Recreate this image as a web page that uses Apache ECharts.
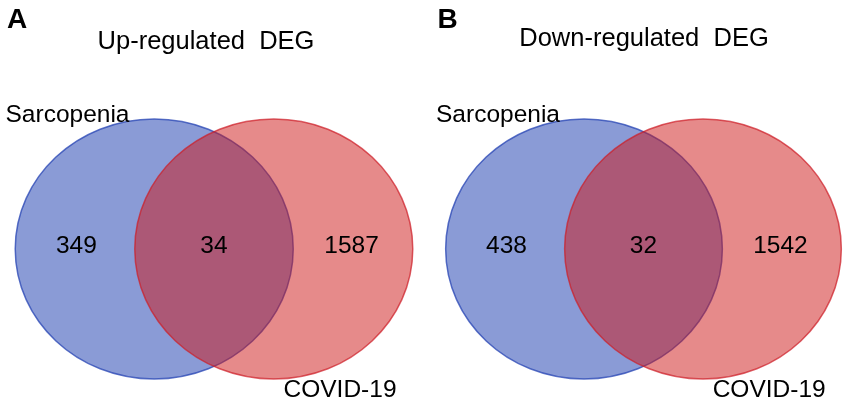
<!DOCTYPE html>
<html lang="en">
<head>
    <meta charset="utf-8">
    <title>Venn DEG</title>
    <style>
        html, body { margin: 0; padding: 0; background: #fff; }
    </style>
</head>
<body>
    <div id="main" style="width:851px;height:407px;"></div>
    <script src="https://cdn.jsdelivr.net/npm/echarts@6/dist/echarts.min.js"></script>
    <script type="text/javascript">
    var myChart = echarts.init(document.getElementById('main'));

    // data
    var panelLetters = ['A', 'B'];
    var panelTitles = ['Up-regulated  DEG', 'Down-regulated  DEG'];
    var setNames = ['Sarcopenia', 'COVID-19'];
    // [Sarcopenia only, overlap, COVID-19 only]
    var upCounts = [349, 34, 1587];
    var downCounts = [438, 32, 1542];
    var panelCounts = [upCounts, downCounts];

    var font = 'Liberation Sans, Arial, Helvetica, sans-serif';
    var setFill = ['rgba(21,55,173,0.5)', 'rgba(205,21,21,0.5)'];
    var setStroke = ['rgba(40,70,180,0.75)', 'rgba(205,30,40,0.7)'];

    // layout in unit coords: circle radius = 1 on both axes
    var offset = 0.43;
    var countX = [-0.99, 0, 0.99];
    var gridLeft = [5.5, 436];

    var grids = [], xAxes = [], yAxes = [], series = [], titles = [];

    panelLetters.forEach(function (letter, p) {
        grids.push({ left: gridLeft[p], top: 93, width: 417, height: 312 });
        xAxes.push({ gridIndex: p, type: 'value', min: -1.5, max: 1.5, show: false });
        yAxes.push({ gridIndex: p, type: 'value', min: -1.2, max: 1.2, show: false });

        titles.push({
            text: letter, left: gridLeft[p] + 1.5, top: 6, padding: 0,
            textStyle: { fontFamily: font, fontSize: 28, fontWeight: 'bold', color: '#000' }
        });
        titles.push({
            text: panelTitles[p], left: p === 0 ? 206 : 644, top: p === 0 ? 29 : 26,
            textAlign: 'center', padding: 0,
            textStyle: { fontFamily: font, fontSize: 25.5, fontWeight: 'normal', color: '#000' }
        });

        // the two sets
        series.push({
            type: 'custom',
            xAxisIndex: p, yAxisIndex: p,
            silent: true,
            data: setNames.map(function (n, i) { return [i === 0 ? -offset : offset, 0, i]; }),
            renderItem: function (params, api) {
                var c = api.coord([api.value(0), api.value(1)]);
                var s = api.size([1, 1]);
                var i = api.value(2);
                return {
                    type: 'ellipse',
                    shape: { cx: c[0], cy: c[1], rx: s[0], ry: s[1] },
                    style: { fill: setFill[i], stroke: setStroke[i], lineWidth: 1.5 }
                };
            }
        });

        // counts
        series.push({
            type: 'scatter',
            xAxisIndex: p, yAxisIndex: p,
            symbolSize: 0,
            silent: true,
            z: 5,
            itemStyle: { opacity: 1 },
            data: panelCounts[p].map(function (v, i) { return { value: [countX[i], 0.02], count: v }; }),
            label: {
                show: true, position: 'inside', opacity: 1,
                formatter: function (d) { return d.data.count; },
                fontFamily: font, fontSize: 24.5, color: '#000'
            }
        });

        // set names
        series.push({
            type: 'scatter',
            xAxisIndex: p, yAxisIndex: p,
            symbolSize: 0,
            silent: true,
            z: 5,
            itemStyle: { opacity: 1 },
            data: [
                { name: setNames[0], value: [-1.5, 1.03] },
                { name: setNames[1], value: [0.5, -1.09] }
            ],
            label: {
                show: true, position: 'right', distance: 0, opacity: 1,
                formatter: '{b}',
                fontFamily: font, fontSize: 24.5, color: '#000'
            }
        });
    });

    var option = {
        backgroundColor: '#fff',
        animation: false,
        title: titles,
        grid: grids,
        xAxis: xAxes,
        yAxis: yAxes,
        series: series
    };
    myChart.setOption(option);
    </script>
</body>
</html>
